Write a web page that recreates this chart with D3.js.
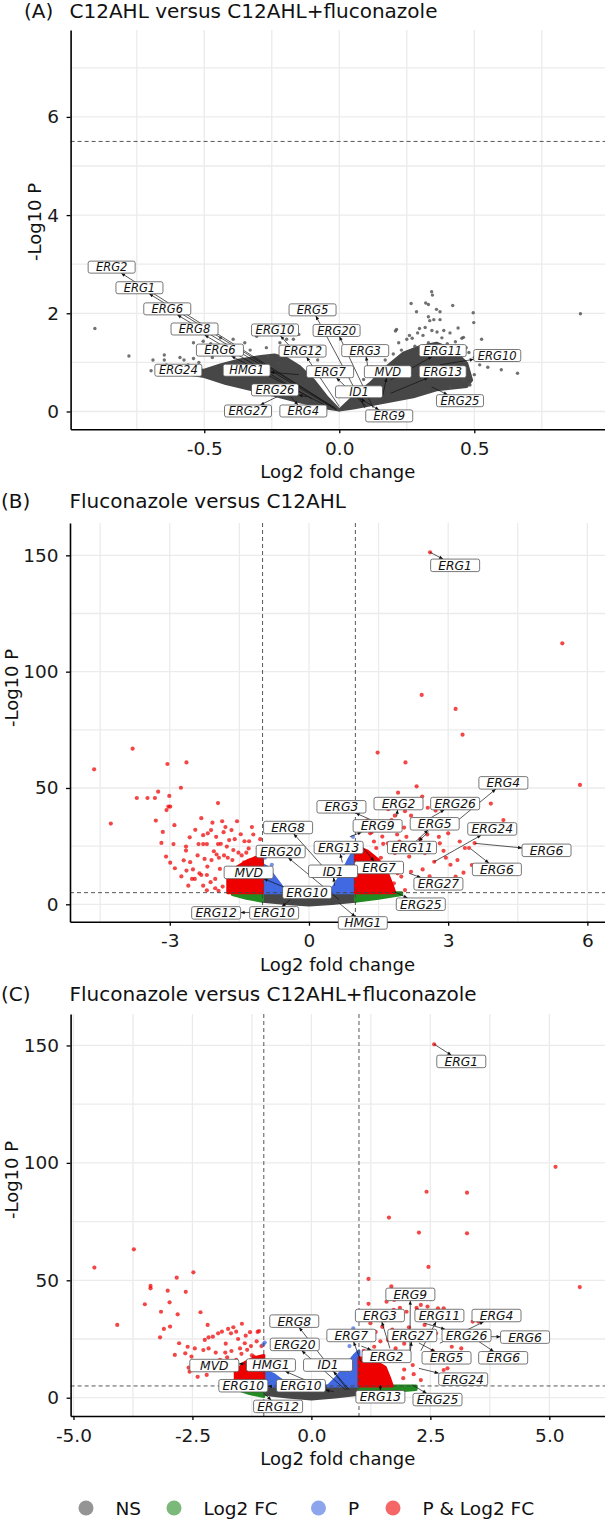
<!DOCTYPE html>
<html lang="en">
<head>
<meta charset="UTF-8">
<title>Volcano plots - ERG genes</title>
<script src="https://cdn.jsdelivr.net/npm/d3@7"></script>
<style>
  body { margin: 0; background: #fff; }
  svg text { font-family: "DejaVu Sans", Verdana, sans-serif; }
</style>
</head>
<body>
<div id="chart"></div>
<script>
// ---------- data ----------
var legendKeys = ["NS", "Log2 FC", "P", "P & Log2 FC"];
var legendColours = ["#4d4d4d", "#228b22", "#4169e1", "#ee0000"];

// panel A ticks
var aXTicks = [-0.5, 0, 0.5], aXLabels = ["-0.5", "0.0", "0.5"];
var aYTicks = [0, 2, 4, 6], aYLabels = ["0", "2", "4", "6"];
var aXGrid = [-0.75, -0.5, -0.25, 0, 0.25, 0.5, 0.75];
var aYGrid = [0, 1, 2, 3, 4, 5, 6, 7];
// panel B ticks
var bXTicks = [-3, 0, 3, 6], bXLabels = ["-3", "0", "3", "6"];
var bYTicks = [0, 50, 100, 150], bYLabels = ["0", "50", "100", "150"];
var bXGrid = [-4.5, -3, -1.5, 0, 1.5, 3, 4.5, 6];
var bYGrid = [0, 25, 50, 75, 100, 125, 150];
// panel C ticks
var cXTicks = [-5, -2.5, 0, 2.5, 5], cXLabels = ["-5.0", "-2.5", "0.0", "2.5", "5.0"];
var cYTicks = [0, 50, 100, 150], cYLabels = ["0", "50", "100", "150"];
var cXGrid = [-5, -3.75, -2.5, -1.25, 0, 1.25, 2.5, 3.75, 5];
var cYGrid = [0, 25, 50, 75, 100, 125, 150];

// panel A: dense NS cloud outline (log2FC, -log10 P) and scattered genes
var aCloudL = [[-0.60,0.86],[-0.50,0.84],[-0.44,0.95],[-0.37,1.05],[-0.29,1.12],[-0.24,1.15],[-0.195,1.08],
  [-0.146,0.91],[-0.096,0.64],[-0.047,0.30],[0.0,0.03],[-0.047,0.07],[-0.17,0.23],[-0.29,0.40],[-0.42,0.57],
  [-0.50,0.71],[-0.60,0.80]];
var aCloudR = [[0.0,0.03],[0.052,0.30],[0.114,0.57],[0.175,0.91],[0.237,1.19],[0.299,1.32],[0.36,1.39],
  [0.422,1.25],[0.472,0.98],[0.49,0.64],[0.472,0.51],[0.36,0.44],[0.274,0.30],[0.151,0.17],[0.052,0.07]];
var aDots = [[-0.905,1.69],[-0.779,1.13],[-0.697,0.83],[-0.69,1.05],[-0.648,1.15],[-0.648,1.05],[-0.59,1.10],
  [-0.575,1.05],[-0.54,1.08],[-0.54,1.40],[-0.504,1.43],[-0.476,1.38],[-0.44,1.50],[-0.393,1.47],[-0.368,1.33],
  [-0.306,1.53],[-0.27,1.30],[-0.244,1.57],[-0.195,1.47],[-0.17,1.47],[-0.15,1.57],[-0.263,1.12],[-0.226,0.98],
  [-0.62,0.92],[-0.60,0.85],[-0.12,1.30],[-0.10,1.20],[-0.08,1.05],[-0.33,1.25],[-0.35,1.40],[-0.42,1.20],
  [-0.47,1.10],[-0.52,1.00],[-0.56,0.95],[-0.64,0.95],[-0.20,1.30],[-0.22,1.40],[-0.13,1.15],
  [0.342,2.44],[0.345,2.37],[0.266,2.20],[0.32,2.21],[0.33,2.18],[0.286,2.03],[0.36,2.08],[0.373,2.03],
  [0.42,2.16],[0.496,2.01],[0.498,1.81],[0.33,1.93],[0.35,1.87],[0.335,1.85],[0.373,1.87],[0.212,1.67],
  [0.208,1.64],[0.297,1.69],[0.318,1.71],[0.343,1.65],[0.362,1.62],[0.387,1.65],[0.29,1.60],[0.27,1.49],
  [0.25,1.47],[0.454,1.49],[0.46,1.51],[0.527,1.47],[0.47,1.30],[0.43,1.42],[0.40,1.38],[0.33,1.40],
  [0.28,1.33],[0.23,1.25],[0.20,1.17],[0.17,1.05],[0.893,1.99],[0.66,0.78],[0.484,0.54],[0.52,0.95],
  [0.50,0.75],[0.41,0.50],[0.46,0.64],[0.48,0.55],[0.453,1.19],[0.15,1.20],[0.22,1.40],[0.26,1.55],
  [0.31,1.55],[0.38,1.50],[0.41,1.60],[0.44,1.70],[0.48,1.20],[0.50,1.10],[0.53,1.20],[0.55,0.90],
  [0.56,1.05],[0.60,0.85],[0.12,0.90],[0.09,0.65]];

// panel B: dense regions and scattered genes
var bNs = [[-1,5],[1,5],[1,1.3],[0.5,0.3],[0,-0.3],[-0.5,0.3],[-1,1.3]];
var bGreenL = [[-1.65,5],[-1,5],[-1,1.3],[-1.35,2.6],[-1.65,4.2]];
var bGreenR = [[1,5],[2.0,5],[2.0,4.2],[1.5,2.6],[1,1.3]];
var bBlueL = [[-1,5],[-1,17],[-0.9,16],[-0.75,12],[-0.6,8],[-0.45,5]];
var bBlueR = [[0.4,5],[0.55,8],[0.7,13],[0.85,19],[1,24],[1,5]];
var bRedL = [[-1.75,5],[-1.75,11],[-1.55,16],[-1.3,19],[-1,21],[-1,5]];
var bRedR = [[1,5],[1,25],[1.25,23],[1.5,19],[1.7,13],[1.8,8],[1.85,5]];
var bRedDots = [[-3.80,66.9],[-4.63,58.0],[-3.05,60.3],[-2.64,61.0],[-2.76,50.1],[-3.71,45.7],[-3.48,45.7],
  [-3.32,45.7],[-3.25,48.4],[-3.01,46.6],[-3.03,42.0],[-2.99,42.0],[-3.07,40.5],[-1.96,43.5],[-4.27,34.7],
  [-3.15,31.1],[-3.18,26.4],[-3.08,20.5],[-2.92,25.9],[-2.99,17.9],[-2.89,15.5],[-2.32,37.0],[-2.08,35.1],
  [-1.87,35.7],[-1.55,35.7],[-1.23,33.2],[-1.80,33.2],[-1.67,31.9],[-2.57,28.8],[-2.18,30.5],[-2.28,29.7],
  [-2.11,31.9],[-1.47,30.1],[-1.39,27.1],[-1.29,27.1],[-2.65,24.8],[-2.65,23.1],[-2.38,25.9],[-2.28,25.9],
  [-2.20,25.9],[-1.77,24.8],[-2.70,18.9],[-2.56,18.1],[-2.64,14.5],[-2.52,10.9],[-2.46,10.9],[-2.32,12.6],
  [-2.28,8.0],[-2.20,12.6],[-2.10,19.0],[-2.05,22.8],[-1.99,21.4],[-1.94,20.0],[-1.83,21.0],[-1.63,23.3],
  [-1.52,22.2],[-1.45,21.0],[-1.35,22.2],[-2.02,10.9],[-2.02,6.9],[-1.86,7.6],[-1.92,15.2],[-2.12,9.5],
  [-2.19,16.2],[-2.25,19.5],[-2.36,13.3],[-1.72,27.6],[-1.84,31.0],[-1.96,25.9],[-1.10,24],[-1.20,30],
  [-1.15,20],[-1.30,24],[-1.60,28],[-1.75,20],[-1.90,26],[-2.00,29],[-2.40,21],[-2.50,15],[-2.20,6],
  [-1.95,5.8],[-2.60,8],[-2.75,12],[-1.40,18],[-1.65,19],[-1.05,28],[-2.45,32],[-2.90,34],[-3.30,36],
  [2.61,151.3],[5.46,112.2],[2.43,90],[3.16,84],[3.31,72.9],[1.48,65.2],[2.08,61],[2.32,50.7],[5.84,51.3],
  [1.92,48],[3.92,43.3],[4.19,36.2],[2.56,41.5],[2.73,40.3],[2.07,40],[2.20,38.1],[1.85,38.1],[1.71,40.9],
  [2.44,46.3],[1.78,36.2],[2.70,18.3],[3.36,24.2],[3.45,24.2],[3.57,26.3],[3.51,16.9],[3.33,13.6],[3.16,11.9],
  [2.82,26.2],[3.0,30.5],[2.16,20.5],[2.25,23.3],[2.29,26.2],[1.99,11.9],[2.07,6.1],[1.83,9.0],[1.91,13.3],
  [1.70,26.2],[1.58,29.1],[1.32,30.5],[1.45,24.2],[1.55,20],[1.75,17],[2.4,28],[2.5,22],[2.6,33],[2.95,20],
  [2.2,14],[2.4,10],[1.15,33],[1.25,36],[1.35,31],[1.4,27],[1.6,32],[1.65,35],[1.9,30],[1.95,27],[2.05,33],
  [2.1,29],[2.35,33],[2.45,36],[2.55,30],[2.65,25],[2.8,29],[2.9,23],[3.05,17],[3.2,19],[3.25,27],[2.45,15],
  [2.6,12],[2.3,8],[2.0,17],[1.85,22],[1.6,26]];
var bBlueDots = [[0.95,29],[0.88,26],[-0.95,20],[-0.8,17],[0.75,22],[0.6,14]];

// panel C: dense regions and scattered genes
var cNs = [[-1,5],[1,5],[1,1.5],[0.5,0.3],[0,-0.5],[-0.5,0.3],[-1,1.5]];
var cGreenL = [[-1.6,5],[-1,5],[-1,0.5],[-1.3,1.8],[-1.6,3.8]];
var cGreenR = [[1,5],[2.2,5],[2.2,3.5],[1.6,2.5],[1,1.5]];
var cBlueL = [[-1,5],[-1,12],[-0.8,10],[-0.6,7],[-0.45,5]];
var cBlueR = [[0.35,5],[0.5,8],[0.7,13],[0.9,18],[1,20],[1,5]];
var cRedL = [[-1.6,5],[-1.6,11],[-1.4,15],[-1.2,17],[-1,18],[-1,5]];
var cRedR = [[1,5],[1,17],[1.3,16],[1.55,13],[1.65,8],[1.7,5]];
var cRedDots = [[-3.73,63.2],[-4.56,55.4],[-2.48,53.4],[-2.83,51.1],[-3.38,47.6],[-3.38,46.6],[-3.02,45.6],
  [-2.64,45.1],[-2.98,40.6],[-3.50,39.8],[-3.16,36.6],[-2.81,35.5],[-2.33,36.4],[-4.08,31.0],[-3.10,29.3],
  [-2.97,30.3],[-2.18,31.0],[-3.18,25.7],[-2.78,23.2],[-2.60,21.7],[-2.87,18.2],[-2.65,18.9],[-2.52,17.5],
  [-2.58,12.8],[-2.56,11.1],[-2.39,8.9],[-2.24,24.6],[-2.16,25.7],[-2.07,26.0],[-1.96,27.4],[-1.88,28.1],
  [-1.75,29.3],[-1.64,30.0],[-1.46,31.5],[-1.69,27.4],[-1.58,28.1],[-1.38,26.4],[-1.29,27.9],[-1.13,28.0],
  [-1.10,28.4],[-2.27,20.3],[-2.16,21.0],[-2.01,19.2],[-1.81,19.2],[-1.68,19.9],[-1.54,25.0],[-1.40,23.2],
  [-1.27,22.0],[-2.14,15.1],[-1.92,16.1],[-1.77,17.2],[-1.58,16.1],[-1.47,18.7],[-1.35,20.4],[-1.21,17.5],
  [-2.20,9.7],[-2.34,12.8],[-1.05,22],[-1.15,24],[-1.25,18],[-1.50,21],[-1.80,23],[-1.90,14],[-2.05,12],
  [-2.30,15],[-2.45,21],[-1.70,13],[-1.35,15],[-1.05,16],
  [2.58,150.5],[5.13,98.3],[2.42,87.7],[3.27,87.3],[1.63,76.7],[2.26,70.3],[3.27,70.0],[2.46,55.7],[1.20,50.6],
  [5.64,47.1],[1.68,47.4],[1.58,40.9],[1.74,41.6],[1.86,38.3],[2.0,36.6],[2.21,38.3],[2.44,38.8],[2.66,38.1],
  [2.30,39.5],[2.38,31.0],[2.95,21.7],[3.15,21.0],[3.39,32.4],[3.51,32.4],[2.78,11.8],[2.86,12.5],[2.30,7.5],
  [2.13,13.9],[1.93,8.3],[1.85,16.8],[1.77,21.0],[1.61,24.6],[1.49,30.2],[1.32,21.7],[1.24,31.7],[1.73,37.4],
  [1.89,33.1],[2.13,26.0],[2.22,37.4],[2.46,43.0],[1.61,43.0],[2.78,38.1],[2.62,27.4],[1.1,26],[1.2,40],
  [1.4,36],[1.45,24],[1.55,33],[1.7,29],[1.8,26],[1.95,23],[2.05,30],[2.25,28],[2.35,34],[2.5,25],[2.55,20],
  [2.7,17],[2.9,27],[3.0,16],[2.15,10],[1.95,12],[1.7,18],[1.35,28],[1.1,20],[2.6,33],[3.1,25]];
var cBlueDots = [[0.88,29.5],[0.92,17],[-1.01,22.7],[-0.98,23.5],[0.8,22]];

// gene labels: [name, label x, label y, gene log2FC, gene -log10 P]
var aLabels = [
  ["ERG2", -0.843, 2.94, -0.01, 0.05], ["ERG1", -0.740, 2.52, -0.02, 0.08],
  ["ERG6", -0.637, 2.09, -0.01, 0.03], ["ERG8", -0.536, 1.68, -0.10, 0.25],
  ["ERG6", -0.442, 1.25, -0.05, 0.12], ["ERG24", -0.596, 0.84, -0.68, 0.86],
  ["HMG1", -0.343, 0.84, -0.15, 0.75], ["ERG10", -0.238, 1.66, -0.17, 1.25],
  ["ERG12", -0.136, 1.23, 0.0, 0.1], ["ERG26", -0.238, 0.44, -0.12, 0.3],
  ["ERG27", -0.338, 0.01, -0.23, 0.3], ["ERG4", -0.133, 0.01, -0.18, 0.3],
  ["ERG5", -0.099, 2.07, 0.095, 0.07], ["ERG20", -0.01, 1.65, 0.126, 0.07],
  ["ERG3", 0.096, 1.24, 0.11, 0.75], ["ERG7", -0.034, 0.81, 0.10, 0.1],
  ["MVD", 0.18, 0.81, 0.16, 0.3], ["ID1", 0.073, 0.40, 0.09, 0.2],
  ["ERG9", 0.185, -0.09, 0.05, 0.35], ["ERG11", 0.383, 1.24, 0.19, 0.64],
  ["ERG13", 0.383, 0.81, 0.19, 0.37], ["ERG10", 0.585, 1.14, 0.373, 0.95],
  ["ERG25", 0.447, 0.22, 0.342, 0.5]
];
var bLabels = [
  ["ERG1", 3.15, 145.7, 2.61, 151.3], ["ERG4", 4.19, 52.2, 3.18, 35.6],
  ["ERG26", 3.15, 43.3, 2.54, 36.2], ["ERG2", 1.93, 43.3, 1.89, 37.7],
  ["ERG3", 0.70, 41.9, 1.35, 36.2], ["ERG9", 1.48, 33.7, 0.88, 29],
  ["ERG5", 2.71, 34.6, 2.25, 26], ["ERG24", 3.95, 32.4, 2.70, 18.3],
  ["ERG6", 5.12, 23.2, 3.58, 26.2], ["ERG6", 4.05, 15.0, 3.49, 23.8],
  ["ERG11", 2.22, 24.4, 2.58, 31.2], ["ERG7", 1.51, 15.8, 1.1, 26],
  ["ERG13", 0.64, 24.4, 0.72, 18], ["ERG8", -0.45, 33.0, 0.56, 10.4],
  ["ERG20", -0.61, 22.7, 0.65, 2], ["ID1", 0.52, 14.2, 0.55, 8],
  ["MVD", -1.30, 13.7, -0.48, 6.9], ["ERG10", -0.04, 5.1, 0.13, 1.5],
  ["ERG10", -0.75, -3.7, -0.4, 2.0], ["ERG12", -2.0, -3.7, -1.27, -3.5],
  ["ERG27", 2.79, 8.8, 2.16, 13.3], ["ERG25", 2.41, 0.04, 1.84, 5.4],
  ["HMG1", 1.16, -8.0, 0.65, 0.5]
];
var cLabels = [
  ["ERG1", 3.15, 143.2, 2.58, 150.5], ["ERG9", 2.08, 44.0, 2.07, 19.6],
  ["ERG3", 1.44, 35.0, 1.65, 21], ["ERG11", 2.69, 35.0, 2.3, 20],
  ["ERG4", 3.89, 35.0, 2.7, 23.2], ["ERG8", -0.36, 32.6, 0.76, 3.3],
  ["ERG7", 0.84, 26.5, 1.04, 15.3], ["ERG27", 2.12, 26.5, 2.05, 15],
  ["ERG26", 3.26, 26.5, 2.38, 31.7], ["ERG6", 4.49, 25.8, 3.76, 26],
  ["ERG20", -0.35, 22.7, 0.72, 3.3], ["ERG2", 1.58, 17.6, 1.05, 22],
  ["ERG5", 2.84, 17.0, 2.26, 23.3], ["ERG6", 4.03, 17.0, 3.52, 23.9],
  ["ERG24", 3.19, 7.9, 2.26, 12.5], ["MVD", -2.04, 13.7, -1.4, 14.5],
  ["HMG1", -0.85, 13.9, 0.35, 3.3], ["ID1", 0.35, 13.9, 0.8, 3.3],
  ["ERG10", -1.43, 5.1, -0.85, 4.8], ["ERG10", -0.22, 5.1, 0.47, 2.6],
  ["ERG12", -0.70, -3.7, -1.0, 1.9], ["ERG13", 1.45, 0.4, 1.45, 5.4],
  ["ERG25", 2.65, -0.8, 2.12, 5.4]
];

// ---------- layout ----------
var svg = d3.select("#chart").append("svg")
    .attr("width", 605)
    .attr("height", 1523);

var panels = [
  {id: "A", tag: "(A)", tagX: 24, title: "C12AHL versus C12AHL+fluconazole", titleY: 17.5,
   left: 70.6, right: 605, top: 30, bottom: 429.3,
   xDomain: [-0.995, 0.984], yDomain: [-0.363, 7.77],
   xGrid: aXGrid, yGrid: aYGrid, xTicks: aXTicks, xLabels: aXLabels, yTicks: aYTicks, yLabels: aYLabels,
   pCut: 5.5, yTitleX: 35, yTitleY: 222,
   areas: [[aCloudL, "#474747"], [aCloudR, "#474747"]],
   dots: [[aDots, "#4d4d4d", 0.8]],
   labels: aLabels, boxW: 47, boxH: 12, labelSize: 11.5, dotR: 1.7},
  {id: "B", tag: "(B)", tagX: 1, title: "Fluconazole versus C12AHL", titleY: 508,
   left: 70, right: 605, top: 523, bottom: 921.7,
   xDomain: [-5.15, 6.38], yDomain: [-7.48, 163.9],
   xGrid: bXGrid, yGrid: bYGrid, xTicks: bXTicks, xLabels: bXLabels, yTicks: bYTicks, yLabels: bYLabels,
   pCut: 5, yTitleX: 12, yTitleY: 688,
   areas: [[bNs, "#474747"], [bGreenL, "#228b22"], [bGreenR, "#228b22"], [bBlueL, "#4169e1"],
           [bBlueR, "#4169e1"], [bRedL, "#ee0000"], [bRedR, "#ee0000"]],
   dots: [[bRedDots, "#ee0000", 0.72], [bBlueDots, "#4169e1", 0.72]],
   labels: bLabels, boxW: 49, boxH: 12.5, labelSize: 12.3, dotR: 2.1},
  {id: "C", tag: "(C)", tagX: 1, title: "Fluconazole versus C12AHL+fluconazole", titleY: 1001,
   left: 70.6, right: 605, top: 1014, bottom: 1416,
   xDomain: [-5.06, 6.17], yDomain: [-7.79, 163.4],
   xGrid: cXGrid, yGrid: cYGrid, xTicks: cXTicks, xLabels: cXLabels, yTicks: cYTicks, yLabels: cYLabels,
   pCut: 5, yTitleX: 12, yTitleY: 1180,
   areas: [[cNs, "#474747"], [cGreenL, "#228b22"], [cGreenR, "#228b22"], [cBlueL, "#4169e1"],
           [cBlueR, "#4169e1"], [cRedL, "#ee0000"], [cRedR, "#ee0000"]],
   dots: [[cRedDots, "#ee0000", 0.72], [cBlueDots, "#4169e1", 0.72]],
   labels: cLabels, boxW: 49, boxH: 12.5, labelSize: 12.3, dotR: 2.1}
];

panels.forEach(function(p) { drawPanel(p); });

function drawPanel(p) {
    var x = d3.scaleLinear().domain(p.xDomain).range([p.left, p.right]);
    var y = d3.scaleLinear().domain(p.yDomain).range([p.bottom, p.top]);
    var g = svg.append("g");

    svg.append("clipPath").attr("id", "clip" + p.id)
      .append("rect")
        .attr("x", p.left).attr("y", p.top)
        .attr("width", p.right - p.left).attr("height", p.bottom - p.top);

    // titles
    g.append("text").attr("x", p.tagX).attr("y", p.titleY)
        .style("font-size", "20px").attr("fill", "#111").text(p.tag);
    g.append("text").attr("x", 69.5).attr("y", p.titleY)
        .style("font-size", "20px").attr("fill", "#111").text(p.title);

    // grid
    g.append("g").selectAll("line").data(p.xGrid).enter().append("line")
        .attr("x1", function(d) { return x(d); }).attr("x2", function(d) { return x(d); })
        .attr("y1", p.top).attr("y2", p.bottom)
        .attr("stroke", "#ebebeb").attr("stroke-width", 1.3);
    g.append("g").selectAll("line").data(p.yGrid).enter().append("line")
        .attr("y1", function(d) { return y(d); }).attr("y2", function(d) { return y(d); })
        .attr("x1", p.left).attr("x2", p.right)
        .attr("stroke", "#ebebeb").attr("stroke-width", 1.3);

    var plot = g.append("g").attr("clip-path", "url(#clip" + p.id + ")");

    // dense clouds of genes
    var line = d3.line().x(function(d) { return x(d[0]); }).y(function(d) { return y(d[1]); });
    p.areas.forEach(function(a) {
        plot.append("path")
            .attr("d", line(a[0]) + "Z")
            .attr("fill", a[1])
            .attr("stroke", a[1])
            .attr("stroke-width", 3)
            .attr("stroke-linejoin", "round");
    });

    // scattered genes
    p.dots.forEach(function(s) {
        plot.append("g").selectAll("circle").data(s[0]).enter().append("circle")
            .attr("cx", function(d) { return x(d[0]); })
            .attr("cy", function(d) { return y(d[1]); })
            .attr("r", p.dotR)
            .attr("fill", s[1])
            .attr("fill-opacity", s[2]);
    });

    // cut-off lines
    plot.append("line")
        .attr("x1", p.left).attr("x2", p.right)
        .attr("y1", y(p.pCut)).attr("y2", y(p.pCut))
        .attr("stroke", "#444").attr("stroke-width", 0.9).attr("stroke-dasharray", "4,3");
    [-1, 1].forEach(function(v) {
        if (v > p.xDomain[0] && v < p.xDomain[1]) {
            plot.append("line")
                .attr("x1", x(v)).attr("x2", x(v))
                .attr("y1", p.top).attr("y2", p.bottom)
                .attr("stroke", "#444").attr("stroke-width", 0.9).attr("stroke-dasharray", "4,3");
        }
    });

    // axes
    var xAxis = g.append("g")
        .attr("transform", "translate(0," + p.bottom + ")")
        .call(d3.axisBottom(x).tickValues(p.xTicks)
            .tickFormat(function(d, i) { return p.xLabels[i]; })
            .tickSize(4).tickSizeOuter(0).tickPadding(8.5));
    var yAxis = g.append("g")
        .attr("transform", "translate(" + p.left + ",0)")
        .call(d3.axisLeft(y).tickValues(p.yTicks)
            .tickFormat(function(d, i) { return p.yLabels[i]; })
            .tickSize(4).tickSizeOuter(0).tickPadding(7.5));
    [xAxis, yAxis].forEach(function(ax) {
        ax.select(".domain").attr("stroke", "#000").attr("stroke-width", 1.6);
        ax.selectAll(".tick line").attr("stroke", "#000").attr("stroke-width", 1.3);
        ax.selectAll(".tick text").attr("fill", "#1a1a1a")
            .style("font-size", "18.5px").style("font-family", "'DejaVu Sans', Verdana, sans-serif");
    });

    g.append("text")
        .attr("x", (p.left + p.right) / 2).attr("y", p.bottom + 49)
        .attr("text-anchor", "middle").style("font-size", "18px").attr("fill", "#111")
        .text("Log2 fold change");
    g.append("text")
        .attr("transform", "translate(" + p.yTitleX + "," + p.yTitleY + ") rotate(-90)")
        .attr("dy", "0.35em")
        .attr("text-anchor", "middle").style("font-size", "18px").attr("fill", "#111")
        .text("-Log10 P");

    // gene labels with connectors (arrowhead sits on the label side)
    var lab = g.append("g");
    var w = p.boxW, h = p.boxH;
    p.labels.forEach(function(l) {
        var cx = x(l[1]), cy = y(l[2]);
        var tx = x(l[3]), ty = y(l[4]);
        var dx = tx - cx, dy = ty - cy;
        var t = Math.min(dx === 0 ? Infinity : (w / 2) / Math.abs(dx),
                         dy === 0 ? Infinity : (h / 2) / Math.abs(dy));
        if (t < 1) {
            var sx = cx + dx * t, sy = cy + dy * t;
            var len = Math.hypot(tx - sx, ty - sy);
            if (len > 3) {
                lab.append("line")
                    .attr("x1", sx).attr("y1", sy).attr("x2", tx).attr("y2", ty)
                    .attr("stroke", "#111").attr("stroke-width", 0.7);
                var ux = (sx - tx) / len, uy = (sy - ty) / len;
                var bx = sx - ux * 4, by = sy - uy * 4;
                lab.append("path")
                    .attr("d", "M" + sx + "," + sy +
                               "L" + (bx - uy * 1.7) + "," + (by + ux * 1.7) +
                               "L" + (bx + uy * 1.7) + "," + (by - ux * 1.7) + "Z")
                    .attr("fill", "#111");
            }
        }
    });
    p.labels.forEach(function(l) {
        var cx = x(l[1]), cy = y(l[2]);
        lab.append("rect")
            .attr("x", cx - w / 2).attr("y", cy - h / 2)
            .attr("width", w).attr("height", h)
            .attr("rx", 2)
            .attr("fill", "#fff").attr("stroke", "#555").attr("stroke-width", 0.8);
        lab.append("text")
            .attr("x", cx).attr("y", cy).attr("dy", "0.36em")
            .attr("text-anchor", "middle")
            .style("font-size", p.labelSize + "px").style("font-style", "italic")
            .attr("fill", "#111")
            .text(l[0]);
    });
}

// ---------- legend ----------
var legendX = [86, 174, 318.5, 393];
var legend = svg.append("g").attr("transform", "translate(0,1508)");
legendKeys.forEach(function(k, i) {
    legend.append("circle")
        .attr("cx", legendX[i]).attr("cy", 0).attr("r", 7.5)
        .attr("fill", legendColours[i]).attr("fill-opacity", 0.6);
    legend.append("text")
        .attr("x", legendX[i] + 29.5).attr("y", 0).attr("dy", "0.36em")
        .style("font-size", "18.5px").attr("fill", "#111")
        .text(k);
});
</script>
</body>
</html>
